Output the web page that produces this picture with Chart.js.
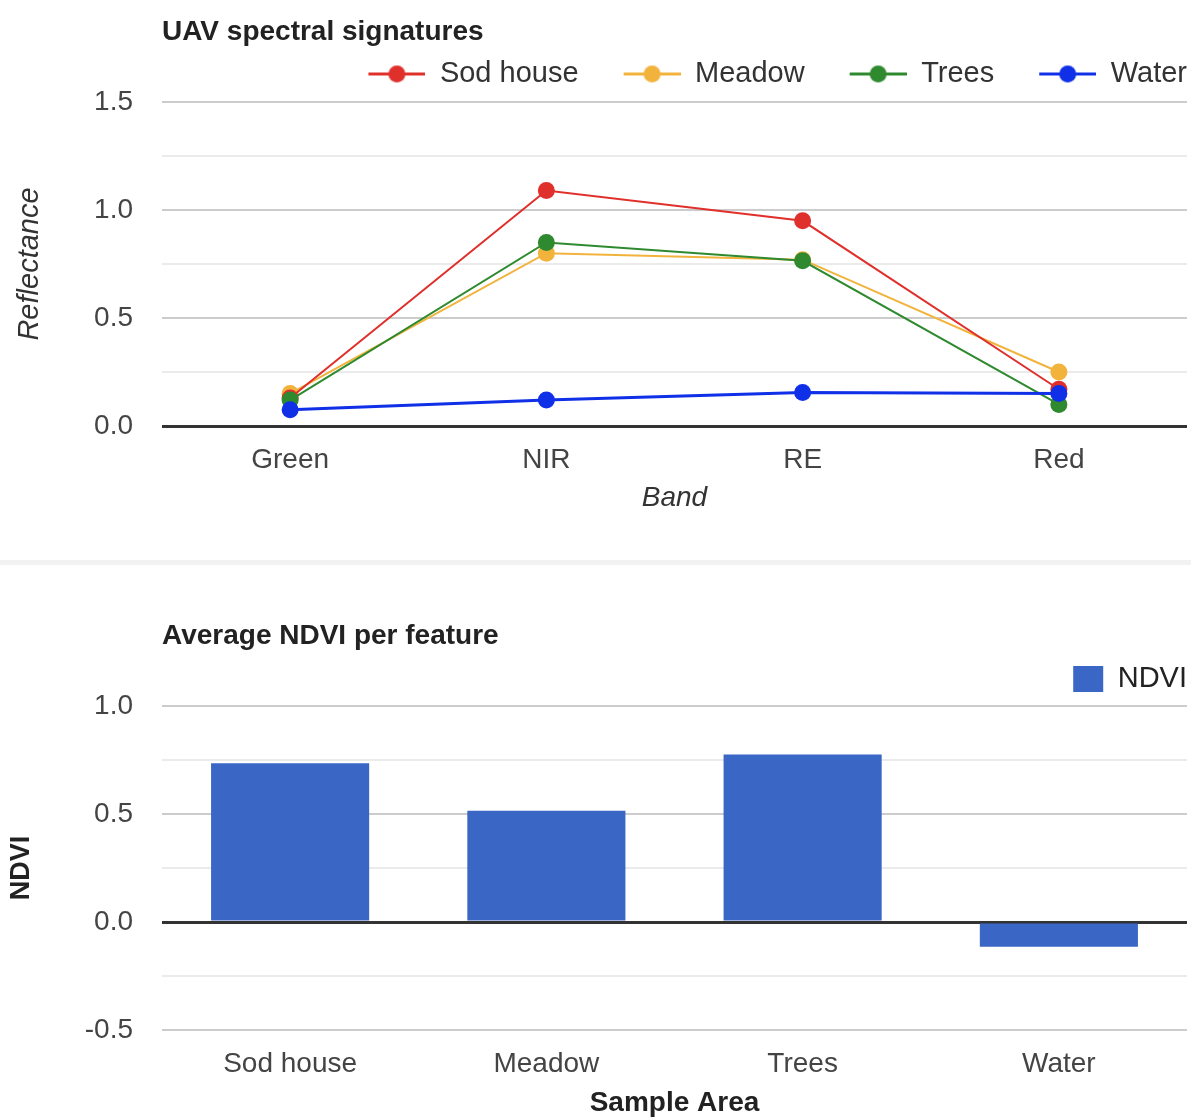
<!DOCTYPE html>
<html>
<head>
<meta charset="utf-8">
<script src="https://cdn.jsdelivr.net/npm/chart.js@4.4.1/dist/chart.umd.min.js"></script>
<style>
  body { margin: 0; background: #fff; overflow: hidden; }
  #top { position: absolute; left: 0; top: 0; width: 1191px; height: 560px; }
  #sep { position: absolute; left: 0; top: 560px; width: 1191px; height: 5px; background: #f2f2f2; }
  #bottom { position: absolute; left: 0; top: 565px; width: 1191px; height: 552px; }
</style>
</head>
<body>
<div id="top"><canvas id="spectral"></canvas></div>
<div id="sep"></div>
<div id="bottom"><canvas id="ndvi"></canvas></div>
<script>
// data
const bands = ['Green', 'NIR', 'RE', 'Red'];
const sodHouse = [0.13, 1.09, 0.95, 0.17];
const meadow = [0.15, 0.80, 0.77, 0.25];
const trees = [0.12, 0.85, 0.765, 0.10];
const water = [0.075, 0.12, 0.155, 0.15];

const areas = ['Sod house', 'Meadow', 'Trees', 'Water'];
const ndvi = [0.735, 0.515, 0.775, -0.115];

Chart.defaults.font.family = "'Liberation Sans', Arial, sans-serif";
Chart.defaults.color = '#444';

// grid: 0 is the dark baseline, every 0.5 a normal line, 0.25 steps lighter
function gridColor(ctx) {
  const v = ctx.tick.value;
  if (Math.abs(v) < 1e-9) return '#333';
  return Math.abs(v * 2 - Math.round(v * 2)) < 1e-9 ? '#cccccc' : '#ebebeb';
}
function gridWidth(ctx) {
  return Math.abs(ctx.tick.value) < 1e-9 ? 3 : 2;
}
function halfLabel(v) {
  return Math.abs(v * 2 - Math.round(v * 2)) < 1e-9 ? v.toFixed(1) : '';
}

// legend marker: line with a dot, like the google chart
function marker(color) {
  const c = document.createElement('canvas');
  c.width = 102;
  c.height = 29;
  const g = c.getContext('2d');
  g.strokeStyle = color;
  g.lineWidth = 3;
  g.beginPath();
  g.moveTo(45, 14.5);
  g.lineTo(102, 14.5);
  g.stroke();
  g.fillStyle = color;
  g.beginPath();
  g.arc(73.5, 14.5, 8.5, 0, Math.PI * 2);
  g.fill();
  return c;
}

const colors = ['#e0302b', '#f2b33d', '#2f8a2f', '#1030e8'];
const markers = colors.map(marker);

function lineSet(label, data, i, order, width) {
  return {
    label: label,
    data: data,
    borderColor: colors[i],
    backgroundColor: colors[i],
    borderWidth: width,
    pointRadius: 8.5,
    pointHoverRadius: 8.5,
    pointBorderWidth: 0,
    order: order
  };
}

new Chart(document.getElementById('spectral'), {
  type: 'line',
  data: {
    labels: bands,
    datasets: [
      lineSet('Sod house', sodHouse, 0, 2, 2),
      lineSet('Meadow', meadow, 1, 3, 2),
      lineSet('Trees', trees, 2, 1, 2),
      lineSet('Water', water, 3, 0, 3)
    ]
  },
  options: {
    responsive: true,
    maintainAspectRatio: false,
    animation: false,
    layout: { padding: { right: 4 }, autoPadding: false },
    plugins: {
      title: {
        display: true,
        text: 'UAV spectral signatures',
        align: 'start',
        fullSize: false,
        color: '#222',
        font: { size: 28, weight: 'bold' },
        padding: { top: 15.2, bottom: 10.7 }
      },
      legend: {
        position: 'top',
        align: 'end',
        labels: {
          usePointStyle: true,
          pointStyleWidth: 102,
          padding: 0,
          color: '#333',
          font: { size: 29 },
          sort: (a, b) => a.datasetIndex - b.datasetIndex,
          generateLabels(chart) {
            return Chart.defaults.plugins.legend.labels.generateLabels(chart).map((l) => {
              l.pointStyle = markers[l.datasetIndex];
              return l;
            });
          }
        }
      },
      tooltip: { enabled: false }
    },
    scales: {
      x: {
        offset: true,
        grid: { display: false },
        border: { display: false },
        ticks: { font: { size: 28 }, color: '#444', padding: 9 },
        title: {
          display: true,
          text: 'Band',
          color: '#333',
          font: { size: 28, style: 'italic' },
          padding: { top: 0, bottom: 45.2 }
        },
        afterFit(s) { s.height = 134; }
      },
      pad: {
        type: 'category',
        position: 'top',
        grid: { display: false },
        border: { display: false },
        ticks: { display: false },
        afterFit(s) { s.height = 3.5; }
      },
      y: {
        min: 0,
        max: 1.5,
        border: { display: false },
        grid: { color: gridColor, lineWidth: gridWidth, drawTicks: false },
        ticks: { stepSize: 0.25, padding: 29, font: { size: 28 }, color: '#444', callback: halfLabel },
        title: {
          display: true,
          text: 'Reflectance',
          color: '#333',
          font: { size: 29, style: 'italic' },
          padding: { top: 12.6, bottom: 0 }
        },
        afterFit(s) { s.width = 162; }
      }
    }
  }
});

new Chart(document.getElementById('ndvi'), {
  type: 'bar',
  data: {
    labels: areas,
    datasets: [{
      label: 'NDVI',
      data: ndvi,
      backgroundColor: '#3a66c6',
      borderWidth: 0,
      categoryPercentage: 0.617,
      barPercentage: 1
    }]
  },
  options: {
    responsive: true,
    maintainAspectRatio: false,
    animation: false,
    layout: { padding: { right: 4 }, autoPadding: false },
    plugins: {
      title: {
        display: true,
        text: 'Average NDVI per feature',
        align: 'start',
        fullSize: false,
        color: '#222',
        font: { size: 28, weight: 'bold' },
        padding: { top: 54.2, bottom: 11.7 }
      },
      legend: {
        position: 'top',
        align: 'end',
        labels: {
          boxWidth: 30,
          boxHeight: 26,
          padding: 0,
          color: '#222',
          font: { size: 29 }
        }
      },
      tooltip: { enabled: false }
    },
    scales: {
      x: {
        grid: { display: false },
        border: { display: false },
        ticks: { font: { size: 28 }, color: '#444', padding: 9 },
        title: {
          display: true,
          text: 'Sample Area',
          color: '#222',
          font: { size: 28, weight: 'bold' },
          padding: { top: 0, bottom: -2.8 }
        },
        afterFit(s) { s.height = 87; }
      },
      pad: {
        type: 'category',
        position: 'top',
        grid: { display: false },
        border: { display: false },
        ticks: { display: false },
        afterFit(s) { s.height = 2.5; }
      },
      y: {
        min: -0.5,
        max: 1.0,
        border: { display: false },
        grid: { color: gridColor, lineWidth: gridWidth, drawTicks: false },
        ticks: { stepSize: 0.25, padding: 29, font: { size: 28 }, color: '#444', callback: halfLabel },
        title: {
          display: true,
          text: 'NDVI',
          color: '#222',
          font: { size: 27, weight: 'bold' },
          padding: { top: 5.8, bottom: 0 }
        },
        afterFit(s) { s.width = 162; }
      }
    }
  }
});
</script>
</body>
</html>
